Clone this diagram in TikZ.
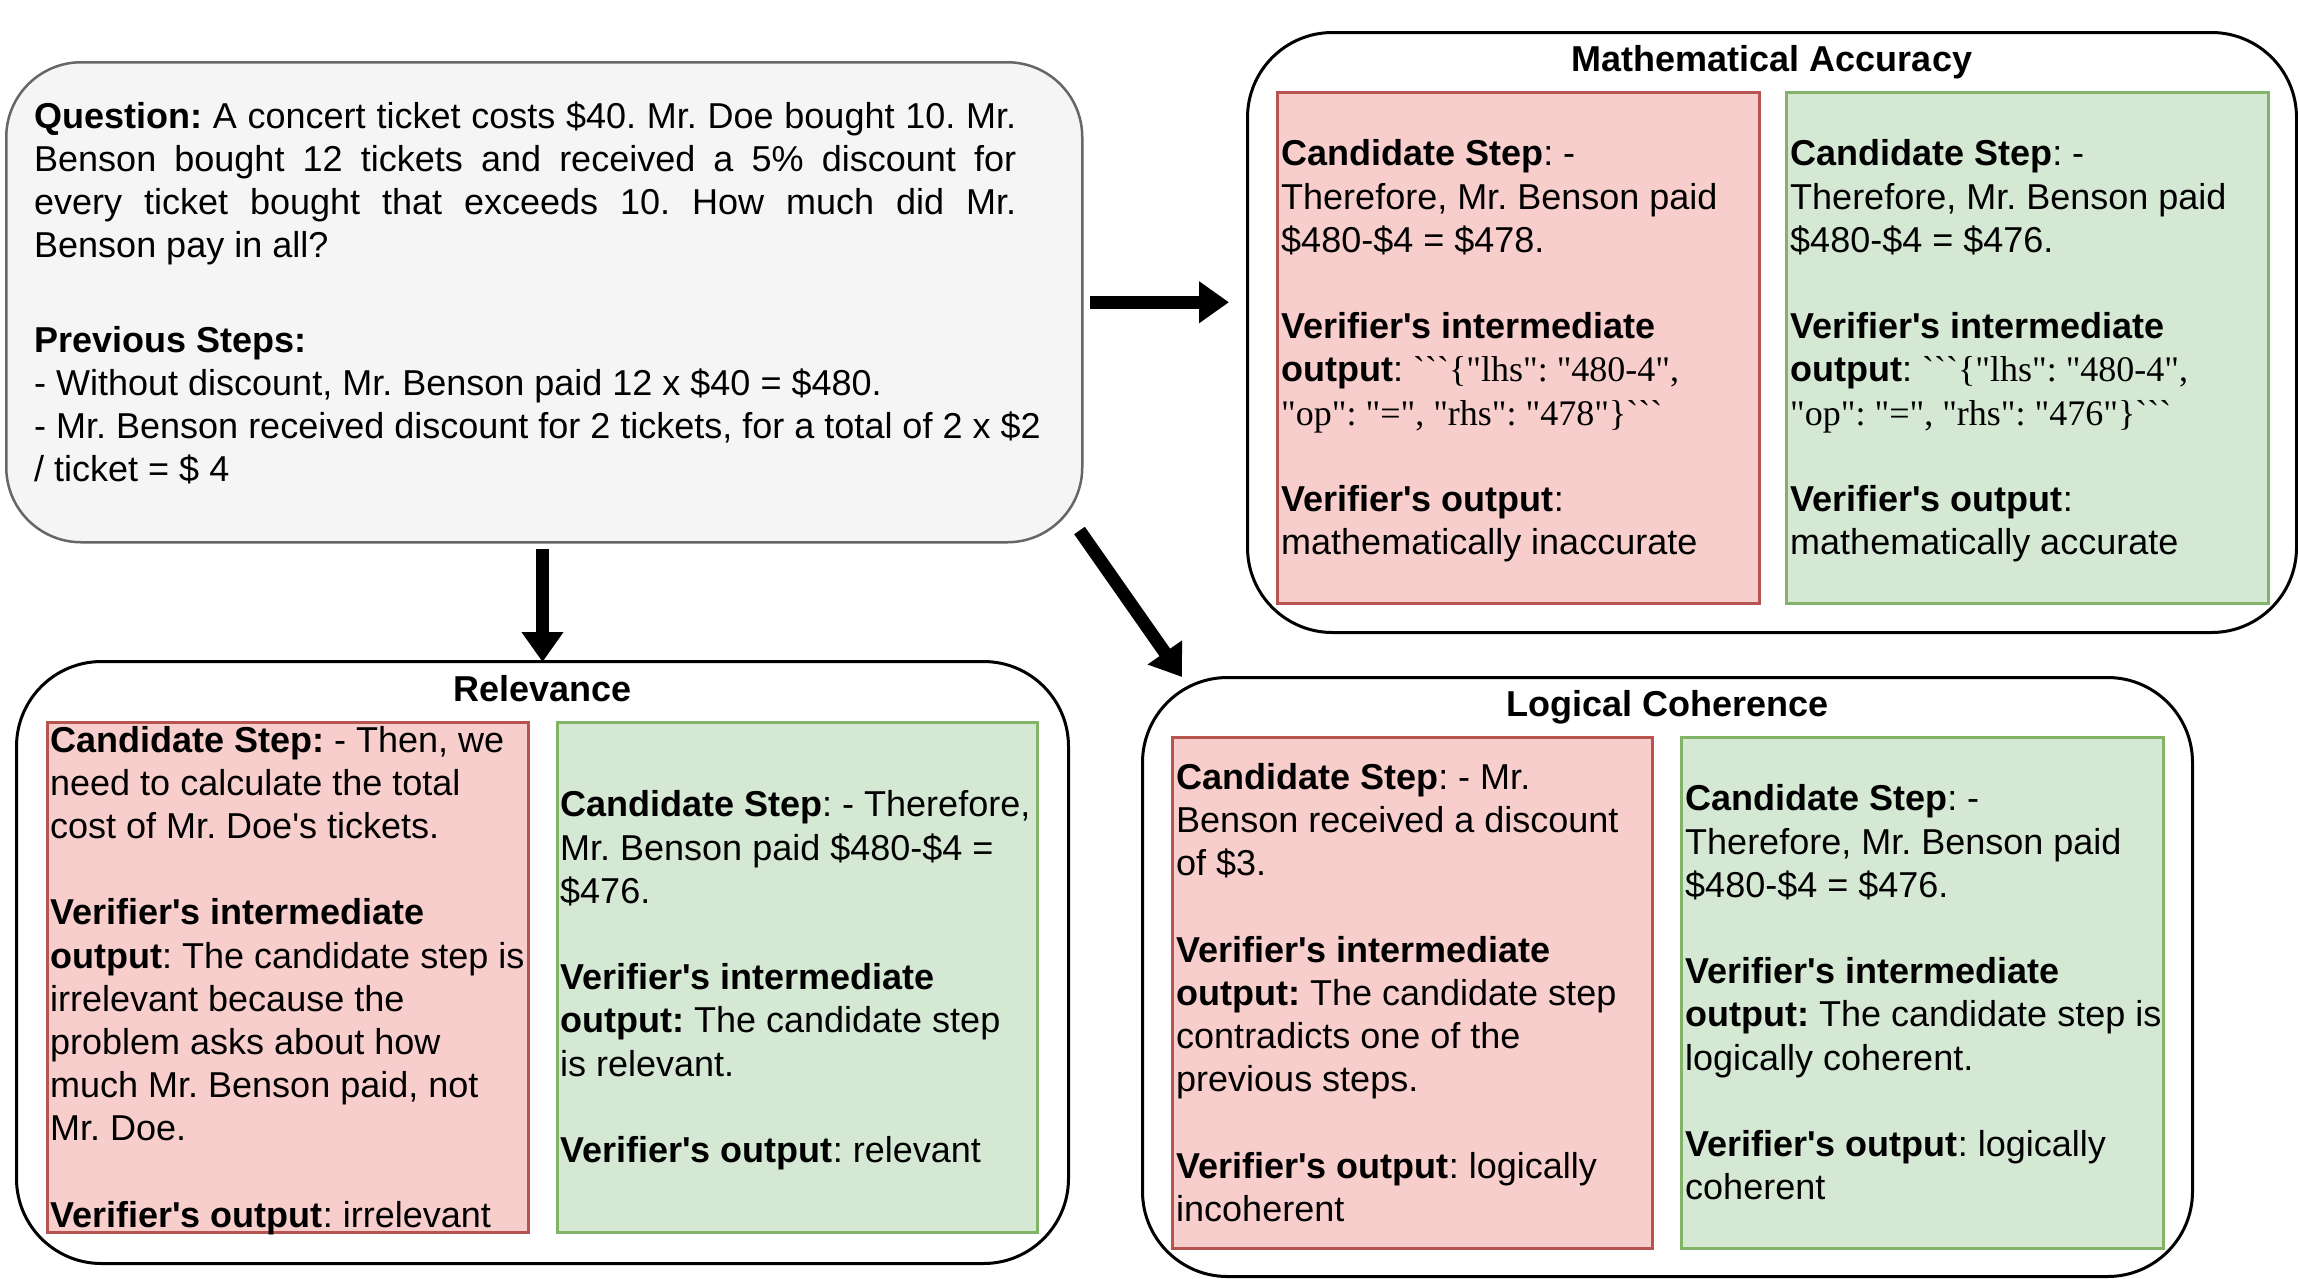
\documentclass[tikz,border=0pt]{standalone}
\usepackage{fontspec}
\setmainfont{Liberation Sans}[Ligatures=TeXOff]
\newfontfamily\jsonfont{Liberation Serif}[Ligatures=TeXOff]
\usetikzlibrary{arrows.meta}
\definecolor{redfill}{HTML}{F8CECC}
\definecolor{redline}{HTML}{B85450}
\definecolor{greenfill}{HTML}{D5E8D4}
\definecolor{greenline}{HTML}{82B366}
\definecolor{qfill}{HTML}{F5F5F5}
\definecolor{qline}{HTML}{666666}
\newcommand\lstrut{\rule[-9.1pt]{0pt}{43.2pt}}
\begin{document}
\begin{tikzpicture}[x=1pt,y=-1pt,
  outerbox/.style={draw=black, line width=3pt, rounded corners=85pt, fill=white, inner sep=0pt, anchor=north west},
  qbox/.style={draw=qline, fill=qfill, line width=2.5pt, rounded corners=75pt, inner sep=0pt, anchor=north west},
  rbox/.style={draw=redline, fill=redfill, line width=2.5pt, inner sep=0pt, anchor=north west},
  gbox/.style={draw=greenline, fill=greenfill, line width=2.5pt, inner sep=0pt, anchor=north west},
  txt/.style={inner sep=0pt, align=left, font=\fontsize{36}{43.2}\selectfont\frenchspacing},
  boxtitle/.style={inner sep=0pt, anchor=base, font=\fontsize{36}{43.2}\selectfont\bfseries},
  bigarrow/.style={line width=13pt, -{Triangle[width=40pt,length=30pt]}}]
\fill[white] (0,0) rectangle (2298,1278);
\useasboundingbox (0,0) rectangle (2298,1278);

% question box
\node[qbox, minimum width=1076pt, minimum height=480pt] (q) at (5,61) {};
\node[txt, text width=982pt, align=justify, anchor=north west] (qt) at (34,94)
 {\lstrut\textbf{Question:} A concert ticket costs \$40. Mr. Doe bought 10. Mr.\linebreak
  Benson bought 12 tickets and received a 5\% discount for\linebreak
  every ticket bought that exceeds 10. How much did Mr.\linebreak
  Benson pay in all?\lstrut};
\node[txt, anchor=north west] (ps) at (34,318)
 {\lstrut\textbf{Previous Steps:}\\
  \lstrut- Without discount, Mr. Benson paid 12 x \$40 = \$480.\\
  \lstrut- Mr. Benson received discount for 2 tickets, for a total of 2 x \$2\\
  \lstrut/ ticket = \$ 4};

% Mathematical accuracy
\node[outerbox, minimum width=1049pt, minimum height=600pt] (math) at (1246,31) {};
\node[boxtitle] (mtitle) at ([yshift=-40pt]math.north) {Mathematical Accuracy};
\node[rbox, minimum width=482pt, minimum height=511pt] (mr) at (1276,91) {};
\node[gbox, minimum width=482pt, minimum height=511pt] (mg) at (1785,91) {};
\node[txt, anchor=west] (mrt) at ([xshift=5pt]mr.west)
 {\lstrut\textbf{Candidate Step}: -\\
  \lstrut Therefore, Mr. Benson paid\\
  \lstrut\$480-\$4 = \$478.\\
  \lstrut\\
  \lstrut\textbf{Verifier's intermediate}\\
  \lstrut\textbf{output}: {\jsonfont ```\{"lhs": "480-4",}\\
  \lstrut{\jsonfont "op": "=", "rhs": "478"\}```}\\
  \lstrut\\
  \lstrut\textbf{Verifier's output}:\\
  \lstrut mathematically inaccurate};
\node[txt, anchor=west] (mgt) at ([xshift=5pt]mg.west)
 {\lstrut\textbf{Candidate Step}: -\\
  \lstrut Therefore, Mr. Benson paid\\
  \lstrut\$480-\$4 = \$476.\\
  \lstrut\\
  \lstrut\textbf{Verifier's intermediate}\\
  \lstrut\textbf{output}: {\jsonfont ```\{"lhs": "480-4",}\\
  \lstrut{\jsonfont "op": "=", "rhs": "476"\}```}\\
  \lstrut\\
  \lstrut\textbf{Verifier's output}:\\
  \lstrut mathematically accurate};

% Relevance
\node[outerbox, minimum width=1052pt, minimum height=602pt] (rel) at (15,660) {};
\node[boxtitle] (rtitle) at ([yshift=-41pt]rel.north) {Relevance};
\node[rbox, minimum width=481pt, minimum height=510pt] (rr) at (46,721) {};
\node[gbox, minimum width=480pt, minimum height=510pt] (rg) at (556,721) {};
\node[txt, anchor=west] (rrt) at ([xshift=4pt]rr.west)
 {\lstrut\textbf{Candidate Step:} - Then, we\\
  \lstrut need to calculate the total\\
  \lstrut cost of Mr. Doe's tickets.\\
  \lstrut\\
  \lstrut\textbf{Verifier's intermediate}\\
  \lstrut\textbf{output}: The candidate step is\\
  \lstrut irrelevant because the\\
  \lstrut problem asks about how\\
  \lstrut much Mr. Benson paid, not\\
  \lstrut Mr. Doe.\\
  \lstrut\\
  \lstrut\textbf{Verifier's output}: irrelevant};
\node[txt, anchor=west] (rgt) at ([xshift=4pt]rg.west)
 {\lstrut\textbf{Candidate Step}: - Therefore,\\
  \lstrut Mr. Benson paid \$480-\$4 =\\
  \lstrut\$476.\\
  \lstrut\\
  \lstrut\textbf{Verifier's intermediate}\\
  \lstrut\textbf{output:} The candidate step\\
  \lstrut is relevant.\\
  \lstrut\\
  \lstrut\textbf{Verifier's output}: relevant};

% Logical coherence
\node[outerbox, minimum width=1050pt, minimum height=599pt] (logic) at (1141,676) {};
\node[boxtitle] (ltitle) at ([yshift=-40pt]logic.north) {Logical Coherence};
\node[rbox, minimum width=480pt, minimum height=511pt] (lr) at (1171,736) {};
\node[gbox, minimum width=482pt, minimum height=511pt] (lg) at (1680,736) {};
\node[txt, anchor=west] (lrt) at ([xshift=5pt]lr.west)
 {\lstrut\textbf{Candidate Step}: - Mr.\\
  \lstrut Benson received a discount\\
  \lstrut of \$3.\\
  \lstrut\\
  \lstrut\textbf{Verifier's intermediate}\\
  \lstrut\textbf{output:} The candidate step\\
  \lstrut contradicts one of the\\
  \lstrut previous steps.\\
  \lstrut\\
  \lstrut\textbf{Verifier's output}: logically\\
  \lstrut incoherent};
\node[txt, anchor=west] (lgt) at ([xshift=5pt]lg.west)
 {\lstrut\textbf{Candidate Step}: -\\
  \lstrut Therefore, Mr. Benson paid\\
  \lstrut\$480-\$4 = \$476.\\
  \lstrut\\
  \lstrut\textbf{Verifier's intermediate}\\
  \lstrut\textbf{output:} The candidate step is\\
  \lstrut logically coherent.\\
  \lstrut\\
  \lstrut\textbf{Verifier's output}: logically\\
  \lstrut coherent};

% arrows
\draw[bigarrow, shorten <=6pt, shorten >=17pt] (q.east) -- (q.east -| math.west);
\draw[bigarrow, shorten <=5pt, shorten >=-2pt] (rel.north |- q.south) -- (rel.north);
\draw[bigarrow] ([xshift=-4pt,yshift=13pt]q.south east) -- ([xshift=41pt,yshift=-1pt]logic.north west);
\end{tikzpicture}
\end{document}
